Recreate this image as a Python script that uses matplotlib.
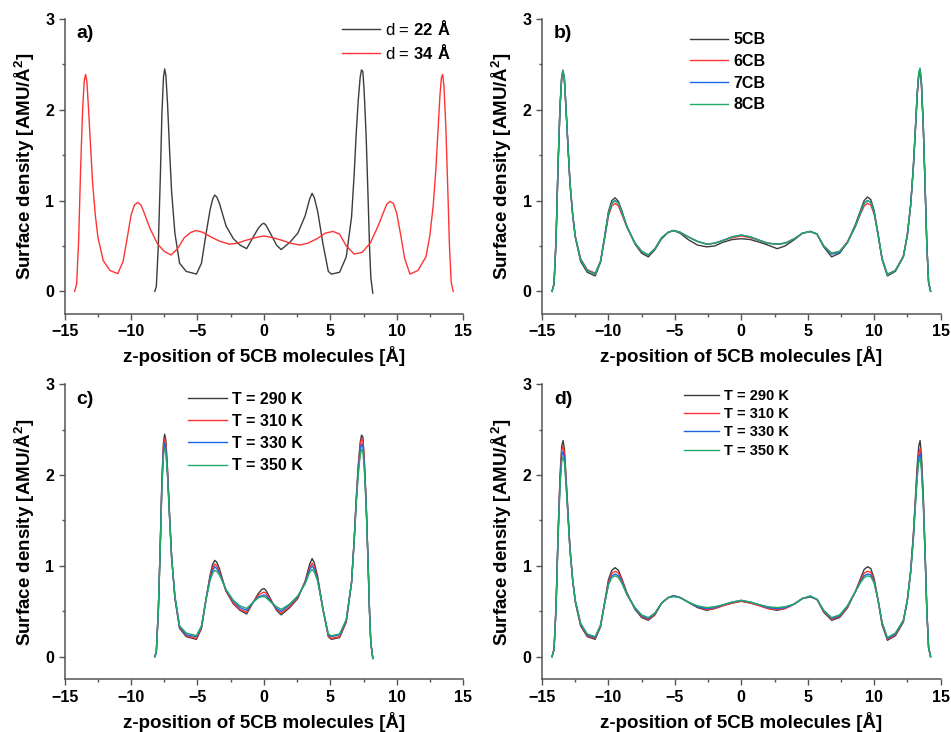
import matplotlib
matplotlib.use("Agg")
import matplotlib.pyplot as plt
from matplotlib.ticker import MultipleLocator

plt.rcParams['font.family'] = ['Liberation Sans', 'DejaVu Sans']
plt.rcParams['font.weight'] = 'bold'
plt.rcParams['axes.labelweight'] = 'bold'
plt.rcParams['mathtext.fontset'] = 'custom'
plt.rcParams['mathtext.rm'] = 'Liberation Sans'
plt.rcParams['mathtext.bf'] = 'Liberation Sans:bold'

## z grids (Angstrom)
z_22 = [-8.22, -8.1, -7.95, -7.8, -7.68, -7.56, -7.47, -7.38, -7.25, -7.1, -6.95, -6.7, -6.35, -5.85,
        -5.08, -4.7, -4.35, -4.05, -3.85, -3.7, -3.55, -3.35, -2.85, -2.3, -1.8, -1.3, -0.8, -0.4,
        -0.15, 0.0, 0.15, 0.45, 0.95, 1.3, 1.95, 2.55, 3.1, 3.45, 3.63, 3.8, 4.05, 4.45,
        4.85, 5.08, 5.7, 6.2,
        6.6, 6.8, 6.95, 7.1, 7.25, 7.35, 7.45, 7.55, 7.7, 7.85, 7.95, 8.05, 8.2]

z_34 = [-14.25, -14.1, -13.95, -13.8, -13.65, -13.52, -13.42, -13.32, -13.2, -13.05, -12.9, -12.7, -12.5, -12.1, -11.6, -11.0,
        -10.6, -10.3, -10.0, -9.75, -9.5, -9.25, -9.0, -8.6,
        -8.0, -7.5, -7.0, -6.5, -6.0, -5.5, -5.1, -4.6, -4.0, -3.3, -2.6, -2.0, -1.4, -0.7,
        0.0, 0.7, 1.4, 2.0, 2.7, 3.3, 4.0, 4.6, 5.2, 5.7, 6.2, 6.8, 7.4, 8.0,
        8.6, 9.0, 9.25, 9.5, 9.75, 10.0, 10.3, 10.6,
        11.0, 11.6, 12.2, 12.5, 12.75, 12.95, 13.1, 13.25, 13.36, 13.46, 13.56, 13.7, 13.85, 13.97, 14.1, 14.25]

## a) film thickness
d22 = [0.0, 0.05, 0.5, 1.25, 1.95, 2.36, 2.45, 2.38, 2.05, 1.55, 1.1, 0.64, 0.31, 0.22,
       0.19, 0.31, 0.64, 0.90, 1.02, 1.06, 1.04, 0.97, 0.72, 0.58, 0.51, 0.47, 0.60, 0.70,
       0.74, 0.75, 0.73, 0.65, 0.51, 0.46, 0.54, 0.64, 0.83, 1.02, 1.08, 1.03, 0.88, 0.52,
       0.22, 0.19, 0.21, 0.38,
       0.82, 1.3, 1.74, 2.1, 2.36, 2.44, 2.42, 2.2, 1.7, 1.0, 0.5, 0.15, -0.02]

d34 = [0.0, 0.08, 0.55, 1.35, 2.0, 2.33, 2.39, 2.3, 2.0, 1.6, 1.2, 0.85, 0.6, 0.34, 0.23, 0.195,
       0.33, 0.58, 0.84, 0.95, 0.98, 0.95, 0.86, 0.70,
       0.52, 0.44, 0.40, 0.47, 0.59, 0.65, 0.67, 0.65, 0.60, 0.55, 0.52, 0.53, 0.56, 0.59,
       0.61, 0.59, 0.56, 0.53, 0.51, 0.53, 0.58, 0.64, 0.66, 0.63, 0.50, 0.41, 0.43, 0.53,
       0.72, 0.87, 0.96, 0.99, 0.97, 0.86, 0.62, 0.36,
       0.19, 0.23, 0.38, 0.62, 0.95, 1.35, 1.75, 2.15, 2.35, 2.39, 2.25, 1.8, 1.1, 0.5, 0.1, 0.0]

## b) homologues, d = 34 A
cb5 = [0.0, 0.08, 0.56, 1.37, 2.03, 2.36, 2.42, 2.33, 2.02, 1.6, 1.2, 0.85, 0.6, 0.33, 0.21, 0.17,
       0.32, 0.60, 0.88, 1.0, 1.03, 0.99, 0.89, 0.71,
       0.52, 0.42, 0.38, 0.46, 0.58, 0.65, 0.67, 0.64, 0.57, 0.51, 0.49, 0.50, 0.54, 0.57,
       0.58, 0.57, 0.54, 0.51, 0.47, 0.50, 0.57, 0.64, 0.66, 0.63, 0.49, 0.38, 0.42, 0.54,
       0.74, 0.90, 1.00, 1.04, 1.01, 0.89, 0.63, 0.35,
       0.17, 0.22, 0.38, 0.62, 0.95, 1.36, 1.77, 2.18, 2.38, 2.42, 2.28, 1.82, 1.1, 0.5, 0.1, 0.0]

cb6 = [0.0, 0.08, 0.55, 1.36, 2.02, 2.35, 2.41, 2.32, 2.01, 1.6, 1.2, 0.85, 0.61, 0.36, 0.24, 0.20,
       0.33, 0.57, 0.83, 0.94, 0.97, 0.94, 0.85, 0.70,
       0.53, 0.44, 0.40, 0.47, 0.59, 0.65, 0.67, 0.65, 0.60, 0.55, 0.52, 0.53, 0.56, 0.59,
       0.61, 0.59, 0.56, 0.53, 0.52, 0.53, 0.58, 0.64, 0.66, 0.63, 0.50, 0.42, 0.44, 0.55,
       0.72, 0.86, 0.94, 0.97, 0.95, 0.85, 0.62, 0.36,
       0.19, 0.23, 0.39, 0.62, 0.95, 1.36, 1.76, 2.17, 2.38, 2.43, 2.28, 1.81, 1.1, 0.5, 0.1, 0.0]

cb7 = [0.0, 0.08, 0.56, 1.37, 2.03, 2.37, 2.43, 2.34, 2.02, 1.6, 1.2, 0.85, 0.6, 0.35, 0.23, 0.19,
       0.33, 0.58, 0.86, 0.97, 1.00, 0.97, 0.87, 0.71,
       0.53, 0.44, 0.40, 0.47, 0.59, 0.65, 0.67, 0.65, 0.60, 0.55, 0.52, 0.53, 0.56, 0.60,
       0.62, 0.60, 0.56, 0.53, 0.52, 0.53, 0.58, 0.64, 0.66, 0.63, 0.50, 0.41, 0.43, 0.54,
       0.72, 0.88, 0.97, 1.00, 0.98, 0.87, 0.62, 0.36,
       0.18, 0.23, 0.38, 0.62, 0.95, 1.36, 1.77, 2.19, 2.40, 2.45, 2.30, 1.83, 1.1, 0.5, 0.1, 0.0]

cb8 = [0.0, 0.08, 0.56, 1.38, 2.04, 2.38, 2.44, 2.35, 2.03, 1.6, 1.2, 0.85, 0.6, 0.35, 0.23, 0.19,
       0.33, 0.58, 0.86, 0.97, 1.00, 0.97, 0.87, 0.71,
       0.53, 0.44, 0.40, 0.47, 0.59, 0.65, 0.67, 0.65, 0.60, 0.55, 0.52, 0.53, 0.56, 0.60,
       0.62, 0.60, 0.56, 0.53, 0.52, 0.53, 0.58, 0.64, 0.66, 0.63, 0.50, 0.42, 0.44, 0.54,
       0.72, 0.88, 0.97, 1.00, 0.98, 0.87, 0.62, 0.36,
       0.18, 0.23, 0.38, 0.62, 0.95, 1.36, 1.78, 2.20, 2.41, 2.46, 2.31, 1.84, 1.1, 0.5, 0.1, 0.0]

## c) temperature, d = 22 A
c290 = d22
c310 = [0.0, 0.05, 0.5, 1.24, 1.92, 2.32, 2.40, 2.34, 2.02, 1.54, 1.1, 0.65, 0.32, 0.23,
        0.20, 0.32, 0.64, 0.88, 0.98, 1.02, 1.00, 0.94, 0.72, 0.59, 0.52, 0.49, 0.60, 0.68,
        0.70, 0.71, 0.70, 0.63, 0.52, 0.48, 0.55, 0.65, 0.82, 0.98, 1.03, 0.99, 0.85, 0.52,
        0.23, 0.20, 0.22, 0.39,
        0.82, 1.29, 1.72, 2.07, 2.32, 2.40, 2.38, 2.17, 1.69, 1.0, 0.5, 0.15, -0.02]
c330 = [0.0, 0.05, 0.5, 1.23, 1.89, 2.27, 2.35, 2.29, 1.99, 1.53, 1.1, 0.66, 0.33, 0.24,
        0.22, 0.33, 0.64, 0.86, 0.95, 0.99, 0.97, 0.92, 0.73, 0.61, 0.54, 0.51, 0.60, 0.66,
        0.67, 0.68, 0.67, 0.62, 0.53, 0.50, 0.57, 0.66, 0.81, 0.96, 1.00, 0.96, 0.84, 0.52,
        0.24, 0.22, 0.24, 0.40,
        0.82, 1.28, 1.70, 2.03, 2.27, 2.34, 2.32, 2.13, 1.67, 1.0, 0.5, 0.15, -0.02]
c350 = [0.0, 0.05, 0.5, 1.22, 1.86, 2.22, 2.30, 2.24, 1.96, 1.52, 1.1, 0.67, 0.34, 0.26,
        0.23, 0.34, 0.63, 0.84, 0.92, 0.95, 0.94, 0.90, 0.74, 0.62, 0.56, 0.53, 0.60, 0.65,
        0.66, 0.66, 0.65, 0.61, 0.55, 0.52, 0.58, 0.67, 0.80, 0.93, 0.96, 0.93, 0.83, 0.52,
        0.25, 0.23, 0.25, 0.41,
        0.82, 1.27, 1.68, 2.0, 2.22, 2.28, 2.26, 2.09, 1.65, 1.0, 0.5, 0.15, -0.02]

## d) temperature, d = 34 A
t290 = [0.0, 0.08, 0.55, 1.34, 1.99, 2.32, 2.38, 2.29, 1.99, 1.6, 1.2, 0.85, 0.6, 0.34, 0.22, 0.19,
        0.33, 0.59, 0.85, 0.95, 0.98, 0.95, 0.86, 0.70,
        0.52, 0.43, 0.40, 0.46, 0.59, 0.65, 0.67, 0.65, 0.60, 0.54, 0.51, 0.53, 0.56, 0.59,
        0.61, 0.59, 0.56, 0.53, 0.51, 0.53, 0.58, 0.64, 0.66, 0.63, 0.49, 0.40, 0.43, 0.54,
        0.72, 0.87, 0.96, 0.99, 0.97, 0.86, 0.62, 0.35,
        0.18, 0.23, 0.38, 0.62, 0.95, 1.34, 1.73, 2.12, 2.32, 2.38, 2.22, 1.78, 1.1, 0.5, 0.1, 0.0]
t310 = [0.0, 0.08, 0.54, 1.32, 1.95, 2.27, 2.32, 2.24, 1.96, 1.58, 1.19, 0.85, 0.61, 0.35, 0.23, 0.20,
        0.33, 0.58, 0.82, 0.92, 0.94, 0.92, 0.84, 0.69,
        0.53, 0.44, 0.41, 0.47, 0.59, 0.65, 0.67, 0.65, 0.60, 0.55, 0.52, 0.53, 0.56, 0.59,
        0.61, 0.59, 0.56, 0.53, 0.52, 0.53, 0.58, 0.64, 0.66, 0.63, 0.50, 0.41, 0.44, 0.55,
        0.72, 0.85, 0.92, 0.94, 0.93, 0.84, 0.62, 0.36,
        0.19, 0.24, 0.39, 0.62, 0.94, 1.32, 1.70, 2.06, 2.24, 2.29, 2.15, 1.74, 1.08, 0.5, 0.1, 0.0]
t330 = [0.0, 0.08, 0.53, 1.30, 1.91, 2.21, 2.26, 2.19, 1.93, 1.56, 1.18, 0.85, 0.62, 0.36, 0.24, 0.21,
        0.34, 0.58, 0.80, 0.89, 0.91, 0.89, 0.82, 0.68,
        0.53, 0.45, 0.42, 0.48, 0.59, 0.65, 0.67, 0.65, 0.60, 0.55, 0.53, 0.54, 0.57, 0.60,
        0.62, 0.60, 0.57, 0.54, 0.53, 0.54, 0.58, 0.64, 0.66, 0.63, 0.51, 0.42, 0.45, 0.56,
        0.72, 0.83, 0.89, 0.91, 0.90, 0.82, 0.62, 0.37,
        0.20, 0.25, 0.40, 0.62, 0.93, 1.30, 1.67, 2.02, 2.19, 2.24, 2.11, 1.71, 1.07, 0.5, 0.1, 0.0]
t350 = [0.0, 0.08, 0.52, 1.28, 1.87, 2.15, 2.20, 2.14, 1.90, 1.54, 1.17, 0.85, 0.62, 0.37, 0.25, 0.22,
        0.35, 0.58, 0.79, 0.87, 0.89, 0.87, 0.81, 0.68,
        0.54, 0.46, 0.43, 0.48, 0.59, 0.65, 0.66, 0.65, 0.60, 0.56, 0.54, 0.55, 0.57, 0.60,
        0.62, 0.60, 0.57, 0.55, 0.54, 0.55, 0.58, 0.64, 0.67, 0.63, 0.51, 0.43, 0.46, 0.56,
        0.72, 0.82, 0.87, 0.89, 0.88, 0.81, 0.62, 0.38,
        0.21, 0.26, 0.40, 0.62, 0.92, 1.28, 1.64, 1.98, 2.14, 2.19, 2.06, 1.68, 1.06, 0.5, 0.1, 0.0]

colors = ['#3c3c3c', '#ff3333', '#1a66e6', '#22aa66']
temps = ['T = 290 K', 'T = 310 K', 'T = 330 K', 'T = 350 K']

fig = plt.figure(figsize=(9.51, 7.32), dpi=100)
ax_a = fig.add_axes([0.068, 0.571, 0.419, 0.403])
ax_b = fig.add_axes([0.570, 0.571, 0.419, 0.403])
ax_c = fig.add_axes([0.068, 0.072, 0.419, 0.403])
ax_d = fig.add_axes([0.570, 0.072, 0.419, 0.403])


def style(ax, tag):
    ax.set_xlim(-15, 15)
    ax.set_ylim(-0.25, 3)
    ax.spines['top'].set_visible(False)
    ax.spines['right'].set_visible(False)
    for s in ['left', 'bottom']:
        ax.spines[s].set_color('#555555')
        ax.spines[s].set_linewidth(1.1)
    ax.xaxis.set_major_locator(MultipleLocator(5))
    ax.xaxis.set_minor_locator(MultipleLocator(2.5))
    ax.yaxis.set_major_locator(MultipleLocator(1))
    ax.yaxis.set_minor_locator(MultipleLocator(0.5))
    ax.tick_params(which='major', direction='out', length=4, width=1,
                   color='#555555', labelsize=11.5)
    ax.tick_params(which='minor', direction='out', length=2.5, width=1,
                   color='#555555')
    ax.set_xlabel('z-position of 5CB molecules [Å]', fontsize=13.5, labelpad=5)
    ax.set_ylabel(r'Surface density [AMU/Å$^{\mathbf{2}}$]', fontsize=13.5, labelpad=6)
    ax.text(0.03, 0.95, tag, transform=ax.transAxes, fontsize=14,
            ha='left', va='center')


## a
ax_a.plot(z_22, d22, color=colors[0], lw=1.0, label=r'd = $\mathbf{22\ Å}$')
ax_a.plot(z_34, d34, color=colors[1], lw=1.0, label=r'd = $\mathbf{34\ Å}$')
style(ax_a, 'a)')
ax_a.legend(loc='upper right', bbox_to_anchor=(0.97, 1.0), frameon=False,
            handlelength=2.3, handletextpad=0.3, labelspacing=0.3,
            borderpad=0, borderaxespad=0, prop={'size': 12, 'weight': 'normal'})

## b
for y, c, lab in zip([cb5, cb6, cb7, cb8], colors, ['5CB', '6CB', '7CB', '8CB']):
    ax_b.plot(z_34, y, color=c, lw=1.0, label=lab)
style(ax_b, 'b)')
ax_b.legend(loc='upper left', bbox_to_anchor=(0.37, 0.955), frameon=False,
            handlelength=2.4, handletextpad=0.35, labelspacing=0.42,
            borderpad=0, borderaxespad=0, prop={'size': 11.5, 'weight': 'bold'})

## c
for y, c, lab in zip([c290, c310, c330, c350], colors, temps):
    ax_c.plot(z_22, y, color=c, lw=1.0, label=lab)
style(ax_c, 'c)')
ax_c.legend(loc='upper left', bbox_to_anchor=(0.31, 0.975), frameon=False,
            handlelength=2.4, handletextpad=0.35, labelspacing=0.45,
            borderpad=0, borderaxespad=0, prop={'size': 11.5, 'weight': 'bold'})

## d
for y, c, lab in zip([t290, t310, t330, t350], colors, temps):
    ax_d.plot(z_34, y, color=c, lw=1.0, label=lab)
style(ax_d, 'd)')
ax_d.legend(loc='upper left', bbox_to_anchor=(0.357, 0.985), frameon=False,
            handlelength=2.4, handletextpad=0.3, labelspacing=0.3,
            borderpad=0, borderaxespad=0, prop={'size': 10.5, 'weight': 'bold'})

fig.savefig('out.png', dpi=100)
